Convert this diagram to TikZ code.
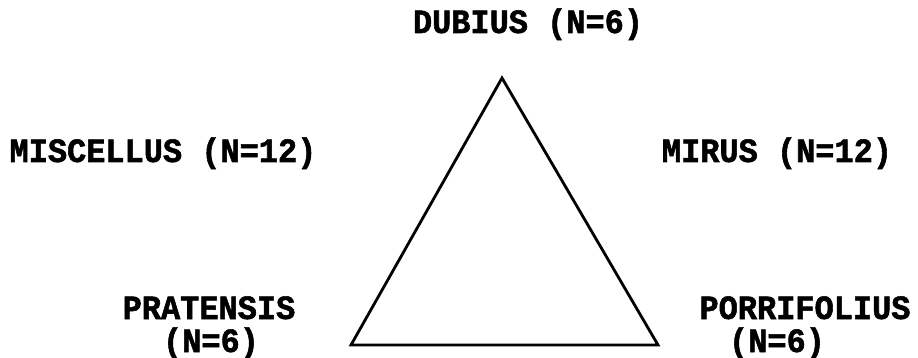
\documentclass[tikz,border=0pt]{standalone}
\usepackage{fontspec}
\newfontfamily\labfont[FakeStretch=0.94,FakeBold=1.6]{Liberation Mono Bold}
\begin{document}
\begin{tikzpicture}[x=1pt,y=-1pt,
  lab/.style={font=\labfont\fontsize{34}{36}\selectfont, inner sep=0pt, anchor=base},
  tri/.style={draw=black, line width=2.8pt, line join=miter}]
\useasboundingbox (0,0) rectangle (918,358);
\coordinate (top) at (502,78);
\coordinate (bl) at (351,345);
\coordinate (br) at (658,345);
\draw[tri] (top) -- (bl) -- (br) -- cycle;
\node[lab] (dub) at (528,33) {DUBIUS (N=6)};
\node[lab] (mis) at (163,162) {MISCELLUS (N=12)};
\node[lab] (mir) at (777,162) {MIRUS (N=12)};
\node[lab] (pra) at (209,319) {PRATENSIS};
\node[lab] (pran) at (211,352) {(N=6)};
\node[lab] (por) at (805,319) {PORRIFOLIUS};
\node[lab] (porn) at (777,352) {(N=6)};
\end{tikzpicture}
\end{document}
